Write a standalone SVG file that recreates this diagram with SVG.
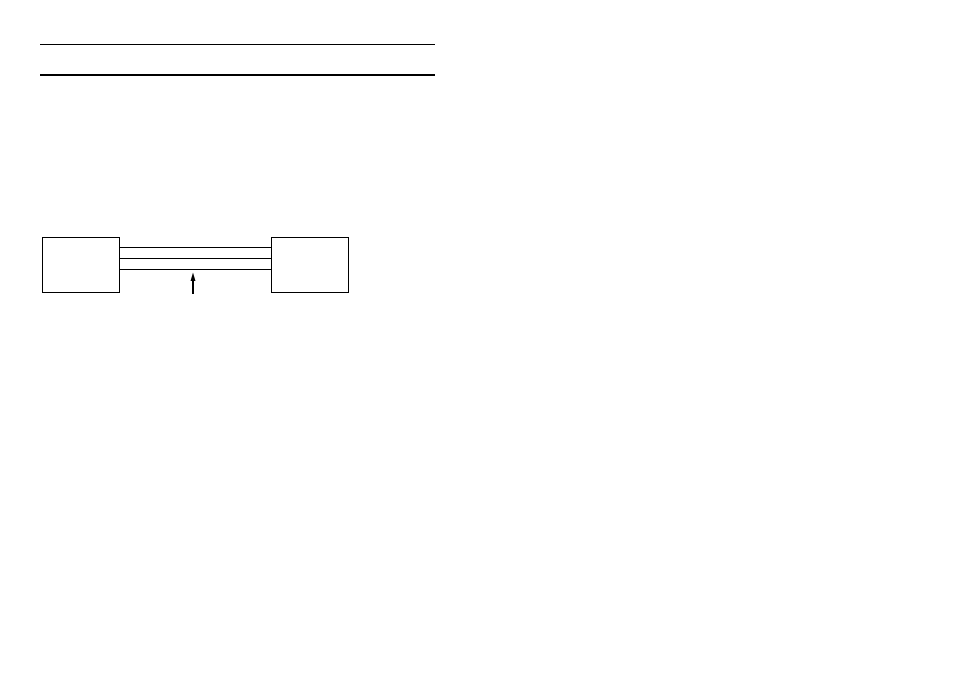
<svg xmlns="http://www.w3.org/2000/svg" width="954" height="676" viewBox="0 0 954 676">
<style>
.box{fill:#fff;stroke:#000;stroke-width:1}
.ln{stroke:#000;stroke-width:1;fill:none}
</style>
<rect width="954" height="676" fill="#fff"/>
<line class="ln" x1="40" y1="44.5" x2="435" y2="44.5"/>
<line x1="40" y1="75" x2="435" y2="75" stroke="#000" stroke-width="2"/>
<g id="left"><rect class="box" x="42.5" y="237.5" width="77" height="55"/></g>
<g id="right"><rect class="box" x="271.5" y="237.5" width="77" height="55"/></g>
<g id="connectors">
<line class="ln" x1="119.5" y1="247.5" x2="271.5" y2="247.5"/>
<line class="ln" x1="119.5" y1="258.5" x2="271.5" y2="258.5"/>
<line class="ln" x1="119.5" y1="269.5" x2="271.5" y2="269.5"/>
<path d="M193,294 V280" stroke="#000" stroke-width="2" fill="none"/>
<path d="M193,272.5 L190.5,281 L195.5,281 Z" fill="#000"/>
</g>
</svg>
